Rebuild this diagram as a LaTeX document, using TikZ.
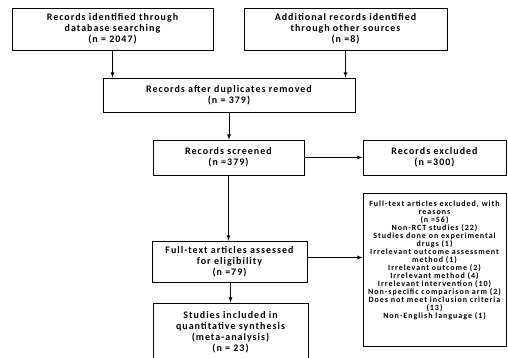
\documentclass[tikz,border=0pt]{standalone}
\usepackage{fontspec}
\setmainfont{Carlito}
\newfontfamily\boxfont[LetterSpace=10]{Carlito}
\newfontfamily\smallfont[LetterSpace=12]{Carlito}
\usetikzlibrary{calc, arrows}

\tikzset{
	box/.style = {draw, line width = 0.8pt, align = center, inner sep = 2pt,
		font = \boxfont\fontsize{10}{11}\selectfont\bfseries},
	flow/.style = {draw, line width = 0.8pt, -latex}
}

\begin{document}
\begin{tikzpicture}[x = 1pt, y = -1pt]
		\useasboundingbox (0,0) rectangle (508,358);
		\clip (0,0) rectangle (508,358);
		
		% identification
		\node[box, minimum width = 201pt, minimum height = 42pt] (dbase) at (112.5,29)
			{Records identified through\\database searching\\(n = 2047)};
		\node[box, minimum width = 203pt, minimum height = 42pt] (other) at (345.5,29)
			{Additional records identified\\through other sources\\(n =8)};
		\node[box, minimum width = 252pt, minimum height = 34pt] (dupl) at (229,95)
			{Records after duplicates removed\\(n = 379)};
		
		% screening
		\node[box, minimum width = 151pt, minimum height = 35pt] (screen) at (228.5,157.5)
			{Records screened\\(n =379)};
		\node[box, minimum width = 143pt, minimum height = 35pt] (recexcl) at (434.5,157.5)
			{Records excluded\\(n =300)};
		
		% eligibility
		\node[box, minimum width = 155pt, minimum height = 41pt] (fulltext) at (229.5,261.5)
			{Full-text articles assessed\\for eligibility\\(n =79)};
		\node[box, minimum width = 143pt, minimum height = 153pt] (ftexcl) at (434.5,269.5) {};
		\node[align = center, anchor = north, inner sep = 0pt,
			font = \smallfont\fontsize{8}{8}\selectfont\bfseries] (ftexcltxt) at ($(ftexcl.north) + (0,8)$)
			{Full-text articles excluded, with\\reasons\\(n =56)\\Non-RCT studies (22)\\
			Studies done on experimental\\drugs (1)\\Irrelevant outcome assessment\\method (1)\\
			Irrelevant outcome (2)\\Irrelevant method (4)\\Irrelevant intervention (10)\\
			Non-specific comparison arm (2)\\Does not meet inclusion criteria\\(13)\\
			Non-English language (1)};
		
		% included
		\node[box, minimum width = 155pt, minimum height = 58pt] (incl) at (230.5,332)
			{Studies included in\\quantitative synthesis\\(meta-analysis)\\(n = 23)};
		
		\draw[flow] (dbase.south) -- (dbase.south |- dupl.north);
		\draw[flow] (other.south) -- (other.south |- dupl.north);
		\draw[flow] (dupl.south) -- (dupl.south |- screen.north);
		\draw[flow] (screen) -- (recexcl);
		\draw[flow] (screen.south) -- (screen.south |- fulltext.north);
		\draw[flow] ($(fulltext.east) + (0,-4)$) -- ($(fulltext.east -| ftexcl.west) + (0,-4)$);
		\draw[flow] (fulltext.south -| incl.north) -- (incl.north);
	\end{tikzpicture}
\end{document}
